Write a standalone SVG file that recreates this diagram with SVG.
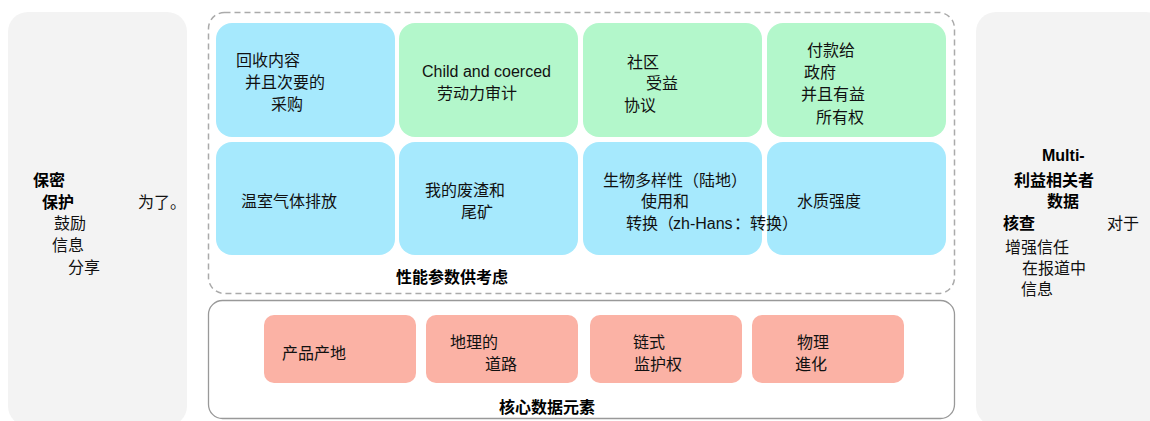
<svg xmlns="http://www.w3.org/2000/svg" width="1150" height="421" viewBox="0 0 1150 421">
<style>
text{font-family:"Liberation Sans","Noto Sans CJK SC",sans-serif;font-size:16px;fill:#111}
.b{font-weight:bold;fill:#000}
.side{fill:#f3f3f3}
.blue{fill:#a6e9fd}
.green{fill:#b3f7cb}
.pink{fill:#fbb2a5}
.dash{fill:none;stroke:#aaa;stroke-width:1.5;stroke-dasharray:6 4}
.solid{fill:none;stroke:#999;stroke-width:1.3}
</style>
<g id="left-panel">
<rect class="side" x="8" y="12" width="179" height="414" rx="20"/>
<text class="b" x="33" y="186">保密</text>
<text class="b" x="42" y="208">保护</text>
<text x="138" y="208">为了。</text>
<text x="54" y="229">鼓励</text>
<text x="52" y="251">信息</text>
<text x="68" y="273">分享</text>
</g>
<g id="right-panel">
<rect class="side" x="976" y="12" width="190" height="414" rx="20"/>
<text class="b" x="1042" y="161">Multi-</text>
<text class="b" x="1014" y="186">利益相关者</text>
<text class="b" x="1047" y="207">数据</text>
<text class="b" x="1003" y="229">核查</text>
<text x="1107" y="229">对于</text>
<text x="1005" y="253">增强信任</text>
<text x="1022" y="274">在报道中</text>
<text x="1021" y="295">信息</text>
</g>
<g id="performance-group">
<rect class="dash" x="208.5" y="12.5" width="746" height="281" rx="16"/>
<text class="b" x="452" y="283" text-anchor="middle">性能参数供考虑</text>
</g>
<g id="tile-recycled">
<rect class="blue" x="216" y="23" width="179" height="114" rx="16"/>
<text x="236" y="66">回收内容</text>
<text x="245" y="88">并且次要的</text>
<text x="271" y="110">采购</text>
</g>
<g id="tile-child-labour">
<rect class="green" x="399" y="23" width="179" height="114" rx="16"/>
<text x="422" y="77">Child and coerced</text>
<text x="437" y="99">劳动力审计</text>
</g>
<g id="tile-community">
<rect class="green" x="583" y="23" width="179" height="114" rx="16"/>
<text x="627" y="68">社区</text>
<text x="646" y="89">受益</text>
<text x="624" y="111">协议</text>
</g>
<g id="tile-payments">
<rect class="green" x="767" y="23" width="179" height="114" rx="16"/>
<text x="807" y="56">付款给</text>
<text x="804" y="78">政府</text>
<text x="801" y="100">并且有益</text>
<text x="816" y="123">所有权</text>
</g>
<g id="tile-ghg">
<rect class="blue" x="216" y="142" width="179" height="113" rx="16"/>
<text x="241" y="207">温室气体排放</text>
</g>
<g id="tile-waste">
<rect class="blue" x="399" y="142" width="179" height="113" rx="16"/>
<text x="425" y="196">我的废渣和</text>
<text x="461" y="218">尾矿</text>
</g>
<g id="tile-water">
<rect class="blue" x="767" y="142" width="179" height="113" rx="16"/>
<text x="797" y="207">水质强度</text>
</g>
<g id="tile-biodiversity">
<rect class="blue" x="583" y="142" width="179" height="113" rx="16"/>
<text y="186"><tspan x="603">生物多样性</tspan><tspan x="683">（</tspan><tspan x="699">陆地</tspan><tspan x="731">）</tspan></text>
<text x="641" y="207">使用和</text>
<text y="229"><tspan x="626">转换</tspan><tspan x="658">（</tspan><tspan x="673">zh-Hans</tspan><tspan x="734">：</tspan><tspan x="750">转换</tspan><tspan x="782">）</tspan></text>
</g>
<g id="core-group">
<rect class="solid" x="208.5" y="300.5" width="746" height="118" rx="14"/>
<text class="b" x="547" y="413" text-anchor="middle">核心数据元素</text>
</g>
<g id="tile-origin">
<rect class="pink" x="264" y="315" width="152" height="68" rx="10"/>
<text x="282" y="359">产品产地</text>
</g>
<g id="tile-geo">
<rect class="pink" x="426" y="315" width="152" height="68" rx="10"/>
<text x="450" y="348">地理的</text>
<text x="485" y="370">道路</text>
</g>
<g id="tile-custody">
<rect class="pink" x="590" y="315" width="152" height="68" rx="10"/>
<text x="633" y="348">链式</text>
<text x="634" y="370">监护权</text>
</g>
<g id="tile-physical">
<rect class="pink" x="752" y="315" width="152" height="68" rx="10"/>
<text x="797" y="348">物理</text>
<text x="795" y="370">進化</text>
</g>
<g id="connectors"/>
</svg>
